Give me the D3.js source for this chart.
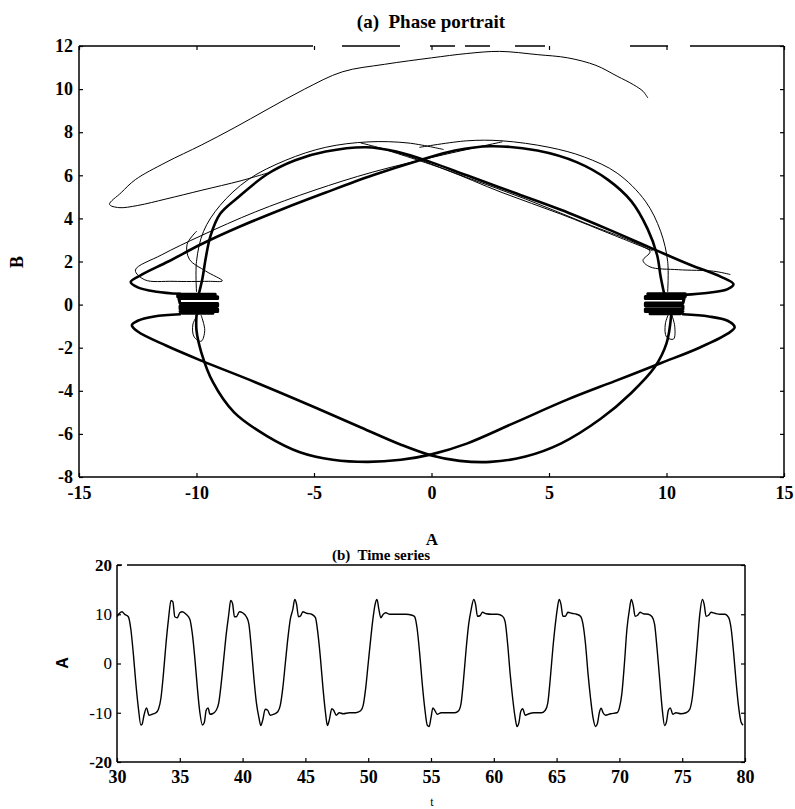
<!DOCTYPE html>
<html>
<head>
<meta charset="utf-8">
<script src="https://cdn.jsdelivr.net/npm/d3@7"></script>
<style>
body { margin: 0; background: #fff; }
</style>
</head>
<body>
<svg id="mainSVG"></svg>
<script>
// ---- data ----
// (a) phase portrait, ticks
var aTicks = [-15, -10, -5, 0, 5, 10, 15];
var bTicks = [-8, -6, -4, -2, 0, 2, 4, 6, 8, 10, 12];

// transient at the start of the orbit (thin)
var transient = [[-7.0,6.1],[-8.1,5.75],[-9.8,5.3],[-11.3,4.9],[-12.5,4.6],[-13.3,4.5],[-13.7,4.65],[-13.2,5.2],
  [-12.6,5.8],[-11.3,6.6],[-9.8,7.4],[-8.4,8.2],[-7.0,9.05],[-5.4,10.0],[-3.8,10.8],[-2.0,11.15],[0,11.45],
  [1.5,11.65],[2.9,11.75],[4.5,11.6],[5.8,11.45],[7.0,11.1],[7.9,10.6],[8.6,10.2],[9.0,9.9],[9.2,9.6]];

// thick loops of the attractor
var upperLeftLoop = [[-9.9,0.5],[-9.75,1.2],[-9.6,2.2],[-9.4,3.2],[-9.0,4.2],[-8.2,5.0],[-7.0,6.05],[-5.8,6.7],
  [-4.5,7.1],[-2.8,7.3],[-1.5,7.1],[0,6.6],[1.5,6.0],[3.5,5.2],[5.5,4.4],[7.5,3.5],[9.5,2.55],[11.0,1.85],
  [12.3,1.3],[12.85,0.95],[12.6,0.72],[11.8,0.55],[10.7,0.45]];
var upperRightLoop = [[9.9,0.5],[9.75,1.3],[9.6,2.3],[9.2,3.5],[8.5,4.8],[7.5,5.8],[6.2,6.6],[4.5,7.15],
  [2.5,7.35],[1.0,7.15],[-0.5,6.7],[-2.5,6.0],[-4.5,5.2],[-6.3,4.45],[-8.2,3.6],[-9.8,2.8],[-11.2,2.0],
  [-12.4,1.35],[-12.8,1.05],[-12.5,0.8],[-11.7,0.6],[-10.7,0.5]];
var lowerLeftLoop = [[-10.7,-0.45],[-11.8,-0.55],[-12.5,-0.75],[-12.75,-0.95],[-12.5,-1.25],[-11.3,-1.9],
  [-9.8,-2.6],[-7.5,-3.6],[-5.0,-4.75],[-3.0,-5.7],[-1.3,-6.5],[0,-7.0],[1.2,-7.25],[2.5,-7.3],[4.0,-7.05],
  [5.5,-6.45],[7.2,-5.3],[8.5,-4.1],[9.5,-2.9],[10.0,-1.8],[10.2,-0.5]];
var lowerRightLoop = [[10.7,-0.45],[11.8,-0.55],[12.6,-0.75],[12.9,-1.05],[12.6,-1.35],[11.4,-2.0],
  [9.8,-2.7],[7.8,-3.55],[5.8,-4.4],[3.5,-5.5],[1.5,-6.45],[0,-6.95],[-1.3,-7.2],[-2.7,-7.3],[-4.2,-7.2],
  [-5.6,-6.85],[-7.0,-6.1],[-8.4,-5.0],[-9.3,-3.6],[-9.8,-2.2],[-10.0,-1.2],[-10.0,-0.5]];

// thinner neighbouring passes
var thinLeftArc = [[-10.0,0.6],[-10.0,2.0],[-9.7,3.4],[-9.0,4.6],[-7.8,5.8],[-6.2,6.7],[-4.5,7.3],
  [-2.7,7.55],[-1.0,7.5],[0.5,7.2]];
var thinRightArc = [[10.05,0.6],[10.05,2.0],[9.75,3.4],[9.1,4.8],[7.9,6.1],[6.5,6.85],[5.0,7.3],
  [3.0,7.6],[1.5,7.6],[-0.5,7.3]];
var thinToLeft = [[3.0,7.55],[0.5,6.95],[-2.5,6.15],[-5.0,5.3],[-7.5,4.3],[-9.8,3.2],[-11.5,2.3],
  [-12.6,1.6],[-12.2,1.15],[-11.0,1.08],[-9.5,1.08],[-8.9,1.1],[-9.6,1.55],[-10.3,2.1],[-10.4,2.8],[-10.0,3.4]];
var thinToRight = [[-3.0,7.5],[-1.0,6.9],[1.5,5.9],[4.0,4.9],[6.5,3.8],[8.9,2.75],[9.3,2.45],[9.0,2.05],
  [9.3,1.75],[10.5,1.62],[12.0,1.55],[12.7,1.4]];
var thinToRight2 = [[-2.0,7.2],[0.5,6.3],[3.0,5.2],[5.5,4.2],[7.8,3.2],[9.4,2.5]];
var leftSmallLoop = [[-9.9,-0.4],[-10.15,-0.9],[-10.1,-1.5],[-9.8,-1.7],[-9.65,-1.2],[-9.8,-0.5]];
var rightSmallLoop = [[10.1,-0.4],[9.95,-0.9],[10.0,-1.5],[10.3,-1.6],[10.35,-1.0],[10.2,-0.4]];

// dense back-and-forth bands at the two fixed-point regions
var leftCluster = [[-9.2,0.48],[-10.8,0.48],[-10.8,0.36],[-9.1,0.36],[-9.1,0.28],[-10.75,0.28],
  [-10.7,0.05],[-9.1,0.05],[-9.1,-0.07],[-10.7,-0.07],[-10.7,-0.2],[-9.1,-0.2],[-9.1,-0.32],[-10.7,-0.32],
  [-10.6,-0.4],[-9.3,-0.4]];
var rightCluster = [[9.2,0.5],[10.8,0.5],[10.8,0.38],[9.1,0.38],[9.1,0.28],[10.75,0.28],
  [10.7,0.07],[9.1,0.07],[9.1,-0.05],[10.7,-0.05],[10.7,-0.2],[9.1,-0.2],[9.1,-0.32],[10.7,-0.32],
  [10.6,-0.42],[9.3,-0.42]];

// (b) time series
var tTicks = [30, 35, 40, 45, 50, 55, 60, 65, 70, 75, 80];
var aSeriesTicks = [-20, -10, 0, 10, 20];
var tValues = [30.0,30.2,30.4,30.6,30.9,31.1,31.3,31.5,31.7,31.9,32.0,32.15,32.35,32.55,32.8,33.1,33.3,33.5,33.7,33.9,
  34.1,34.3,34.45,34.6,34.8,35.0,35.2,35.5,35.8,36.0,36.2,36.4,36.6,36.8,36.95,37.1,37.25,37.4,37.6,37.9,
  38.1,38.3,38.5,38.7,38.9,39.05,39.2,39.35,39.5,39.75,40.0,40.3,40.5,40.7,40.9,41.1,41.3,41.45,41.6,41.8,
  42.0,42.2,42.5,42.8,43.0,43.2,43.4,43.6,43.8,44.0,44.15,44.3,44.45,44.6,44.8,45.1,45.5,45.8,46.0,46.2,
  46.4,46.6,46.75,46.9,47.1,47.25,47.45,47.7,48.0,48.5,49.0,49.4,49.6,49.8,50.0,50.2,50.4,50.55,50.7,50.85,
  51.0,51.2,51.4,51.7,52.2,53.0,53.5,53.7,53.9,54.1,54.3,54.5,54.7,54.85,55.0,55.15,55.3,55.5,55.8,56.3,
  56.9,57.2,57.4,57.6,57.8,58.0,58.2,58.4,58.55,58.7,58.9,59.1,59.4,59.8,60.3,60.7,60.9,61.1,61.3,61.5,
  61.7,61.85,62.0,62.15,62.3,62.5,62.8,63.2,63.8,64.1,64.3,64.5,64.7,64.9,65.05,65.2,65.35,65.5,65.7,65.9,
  66.2,66.6,66.9,67.1,67.3,67.5,67.7,67.9,68.1,68.25,68.4,68.55,68.7,68.9,69.3,69.8,70.0,70.2,70.4,70.6,
  70.8,70.95,71.1,71.25,71.45,71.65,71.9,72.3,72.6,72.8,73.0,73.2,73.4,73.6,73.75,73.9,74.05,74.25,74.5,74.9,
  75.3,75.6,75.8,76.0,76.2,76.4,76.6,76.75,76.9,77.1,77.3,77.6,78.0,78.4,78.7,78.9,79.1,79.3,79.5,79.7,79.85];
var aValues = [9.5,10.2,10.5,10.0,9.5,7,2,-4,-9,-12.5,-12.3,-10.5,-9.0,-10.5,-10.3,-10,-9.3,-7,-2,4,
  9,12.8,12.5,9.5,9.3,10.3,10.5,10,9,6,1,-5,-10,-12.5,-12,-9.5,-9,-10.3,-10.2,-9.5,
  -8,-4,1,6,10,12.8,12.2,9.5,9.5,10.5,10.3,9.5,8,3,-3,-8,-11,-12.6,-11.5,-9.3,
  -9.5,-10.5,-10.3,-9.8,-8.5,-5,0,5,9,11,13,12,9.5,9.6,10.5,10.2,10,9.3,6,1,
  -5,-10,-12.6,-11.5,-9.2,-9.5,-10.5,-10,-10.2,-10,-10,-9.6,-8.5,-5,0,5,9.5,12,13,11,
  9.3,10,10.3,10,10,10,9.8,9.5,7,2,-4,-9,-12.5,-12.8,-11,-9,-9.5,-10.3,-10,-10,
  -10,-9.6,-8,-3,3,8,11,13,12,9.6,9.7,10.4,10.1,10,10,9.6,8.5,4,-2,-7,
  -11,-12.8,-12,-9.7,-9.2,-10.5,-10.2,-10,-10,-9.5,-8,-3,3,8,11,13,12,9.6,9.6,10.4,
  10.2,10,9.6,8,4,-2,-7,-11,-12.8,-12.2,-10,-9.1,-10,-10.5,-10.2,-10,-9,-6,0,7,
  11,13,11.8,9.6,9.8,10.4,10.1,10,9.5,8,3,-3,-9,-12.6,-11.8,-9.5,-9,-10.3,-10,-10.2,
  -10,-9.3,-7,-2,4,10,13,12,9.6,9.8,10.4,10.2,10,10,9.3,7,2,-4,-9,-12,-12.5];

// ---- layout ----
var W = 795, H = 809;
var SERIF = "Liberation Serif, Times New Roman, serif";
var svg = d3.select("#mainSVG").attr("width", W).attr("height", H);
svg.append("rect").attr("width", W).attr("height", H).attr("fill", "#fff");

// top plot box
var box1 = { left: 79, right: 784, top: 46, bottom: 477 };
// bottom plot box
var box2 = { left: 117, right: 745, top: 565, bottom: 762 };

var xA = d3.scaleLinear().domain([-15, 15]).range([box1.left, box1.right]);
var yB = d3.scaleLinear().domain([-8, 12]).range([box1.bottom, box1.top]);
var xT = d3.scaleLinear().domain([30, 80]).range([box2.left, box2.right]);
var yA = d3.scaleLinear().domain([-20, 20]).range([box2.bottom, box2.top]);

// ---- (a) phase portrait ----
var g1 = svg.append("g");
var smooth = d3.line().x(function(d) { return xA(d[0]); }).y(function(d) { return yB(d[1]); })
  .curve(d3.curveCatmullRom.alpha(0.5));
var straight = d3.line().x(function(d) { return xA(d[0]); }).y(function(d) { return yB(d[1]); });

function drawPath(data, lineFn, w) {
  g1.append("path").attr("d", lineFn(data)).attr("fill", "none")
    .attr("stroke", "#000").attr("stroke-width", w)
    .attr("stroke-linejoin", "round").attr("stroke-linecap", "round");
}

drawPath(transient, smooth, 1);
[thinLeftArc, thinRightArc, thinToLeft, thinToRight, thinToRight2, leftSmallLoop, rightSmallLoop]
  .forEach(function(p) { drawPath(p, smooth, 1); });
[upperLeftLoop, upperRightLoop, lowerLeftLoop, lowerRightLoop]
  .forEach(function(p) { drawPath(p, smooth, 2.6); });
drawPath(leftCluster, straight, 3);
drawPath(rightCluster, straight, 3);

// frame of top plot
function frameLine(g, x1, y1, x2, y2, dash) {
  g.append("line").attr("x1", x1).attr("y1", y1).attr("x2", x2).attr("y2", y2)
    .attr("stroke", "#000").attr("stroke-width", 1.5)
    .attr("stroke-dasharray", dash || null);
}
frameLine(svg, box1.left, box1.top, box1.left, box1.bottom);
frameLine(svg, box1.left, box1.bottom, box1.right, box1.bottom);
frameLine(svg, box1.right, box1.top, box1.right, box1.bottom);
frameLine(svg, box1.left, box1.top, box1.right, box1.top, "234,29,58,30,25,10,25,25,30,85,38,22,94");

// axes: plain hyphen labels, serif type
var plain = function(d) { return String(d); };
function styleAxis(sel, size, weight) {
  sel.attr("font-family", SERIF);
  sel.select(".domain").remove();
  sel.selectAll(".tick line").attr("stroke", "#000").attr("stroke-width", 1.2);
  sel.selectAll(".tick text").attr("font-size", size).attr("font-weight", weight)
    .attr("fill", "#000").attr("font-family", SERIF);
}
svg.append("g").attr("transform", "translate(0," + box1.bottom + ")")
  .call(d3.axisBottom(xA).tickValues(aTicks).tickFormat(plain).tickSize(-4).tickPadding(9))
  .call(styleAxis, 18, "bold");
svg.append("g").attr("transform", "translate(0," + box1.top + ")")
  .call(d3.axisTop(xA).tickValues(aTicks).tickSize(-4).tickFormat(""))
  .call(styleAxis, 18, "bold");
svg.append("g").attr("transform", "translate(" + box1.left + ",0)")
  .call(d3.axisLeft(yB).tickValues(bTicks).tickFormat(plain).tickSize(-4).tickPadding(6))
  .call(styleAxis, 18, "bold");
svg.append("g").attr("transform", "translate(" + box1.right + ",0)")
  .call(d3.axisRight(yB).tickValues(bTicks).tickSize(-4).tickFormat(""))
  .call(styleAxis, 18, "bold");

svg.append("text").attr("x", 431).attr("y", 28).attr("text-anchor", "middle")
  .attr("font-family", SERIF).attr("font-size", 19).attr("font-weight", "bold")
  .attr("xml:space", "preserve").style("white-space", "pre")
  .text("(a)  Phase portrait");
svg.append("text").attr("transform", "translate(23,262) rotate(-90)").attr("text-anchor", "middle")
  .attr("font-family", SERIF).attr("font-size", 18).attr("font-weight", "bold").text("B");
svg.append("text").attr("x", 432).attr("y", 545).attr("text-anchor", "middle")
  .attr("font-family", SERIF).attr("font-size", 17).attr("font-weight", "bold").text("A");

// ---- (b) time series ----
var series = tValues.map(function(t, i) { return [t, aValues[i]]; });
svg.append("path").attr("d", d3.line()
    .x(function(d) { return xT(d[0]); })
    .y(function(d) { return yA(d[1]); })
    .curve(d3.curveMonotoneX)(series))
  .attr("fill", "none").attr("stroke", "#000").attr("stroke-width", 1.4)
  .attr("stroke-linejoin", "round");

frameLine(svg, box2.left, box2.top, box2.left, box2.bottom);
frameLine(svg, box2.left, box2.bottom, box2.right, box2.bottom);
frameLine(svg, box2.right, box2.top, box2.right, box2.bottom);
frameLine(svg, box2.left, box2.top, box2.right, box2.top, "5,5,700");

svg.append("g").attr("transform", "translate(0," + box2.bottom + ")")
  .call(d3.axisBottom(xT).tickValues(tTicks).tickFormat(plain).tickSize(-4).tickPadding(8))
  .call(styleAxis, 18, "bold");
var yAxis2 = svg.append("g").attr("transform", "translate(" + box2.left + ",0)")
  .call(d3.axisLeft(yA).tickValues(aSeriesTicks).tickFormat(plain).tickSize(-4).tickPadding(5))
  .call(styleAxis, 17, "normal");
// the ±20 labels print heavier than the inner ones
yAxis2.selectAll(".tick text").attr("font-weight", function(d) { return Math.abs(d) == 20 ? "bold" : "normal"; });
svg.append("g").attr("transform", "translate(" + box2.right + ",0)")
  .call(d3.axisRight(yA).tickValues(aSeriesTicks).tickSize(-4).tickFormat(""))
  .call(styleAxis, 17, "normal");

svg.append("text").attr("x", 381).attr("y", 560).attr("text-anchor", "middle")
  .attr("font-family", SERIF).attr("font-size", 15).attr("font-weight", "bold")
  .attr("xml:space", "preserve").style("white-space", "pre").text("(b)  Time series");
svg.append("text").attr("transform", "translate(68,663) rotate(-90)").attr("text-anchor", "middle")
  .attr("font-size", 16).attr("font-weight", "bold")
  .attr("font-family", "Liberation Sans, Arial, sans-serif").text("A");
svg.append("text").attr("x", 432).attr("y", 806).attr("text-anchor", "middle")
  .attr("font-family", SERIF).attr("font-size", 12).text("t");
</script>
</body>
</html>
